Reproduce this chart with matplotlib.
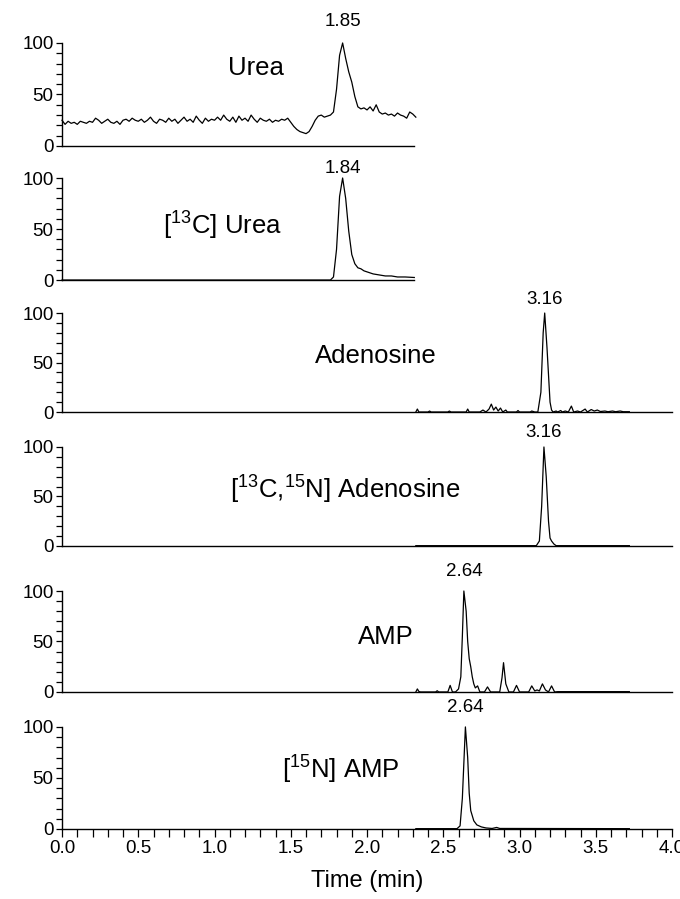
#!/usr/bin/env python3
# -*- coding: utf-8 -*-

"""Stacked chromatograms of urea, adenosine and AMP with their labelled standards."""

import matplotlib
matplotlib.use("Agg")
import matplotlib.pyplot as plt
from matplotlib.ticker import MultipleLocator
import numpy as np

plt.rcParams["font.family"] = ["Liberation Sans", "DejaVu Sans"]
plt.rcParams["mathtext.fontset"] = "custom"
plt.rcParams["mathtext.rm"] = "Liberation Sans"

# --- data -----------------------------------------------------------------
# Urea: sampled every 0.02 min from 0.00 to 2.32 min
urea_step = 0.02
urea_y = [
    25, 21, 24, 22, 23, 21, 24, 23, 22, 24, 23,
    27, 25, 22, 24, 26, 23, 22, 24, 21, 25,
    26, 24, 27, 25, 24, 26, 23, 25, 28, 24,
    22, 26, 25, 23, 27, 24, 26, 22, 25, 28,
    24, 26, 23, 29, 25, 22, 27, 24, 26, 25,
    28, 25, 30, 26, 24, 28, 23, 29, 25, 27,
    24, 30, 26, 23, 27, 25, 24, 26, 23, 25,
    24, 26, 25, 27, 23, 19, 16, 14, 13, 12,
    14, 19, 25, 29, 30, 28, 29, 30, 33, 55,
    88, 100, 85, 72, 62, 48, 38, 36, 37, 35,
    38, 34, 40, 33, 31, 32, 30, 31, 29, 32,
    30, 29, 27, 33, 31, 28,
]
urea_t = list(np.arange(len(urea_y)) * urea_step)

c13_urea_t = [0.0, 1.76, 1.78, 1.80, 1.82, 1.84, 1.86, 1.88, 1.90, 1.92, 1.94,
              1.96, 1.98, 2.00, 2.04, 2.08, 2.12, 2.16, 2.20, 2.25, 2.31]
c13_urea_y = [0, 0, 3, 30, 82, 100, 80, 48, 25, 16, 12,
              11, 9, 8, 6, 5, 4, 4, 3, 3, 2.5]

ade_t = [2.32, 2.33, 2.34, 2.40, 2.41, 2.42, 2.53, 2.54, 2.55, 2.65, 2.66,
         2.67, 2.74, 2.76, 2.78, 2.80, 2.815, 2.83, 2.845, 2.86, 2.875, 2.89,
         2.91, 2.92, 2.98, 2.99, 3.00, 3.07, 3.08, 3.10, 3.12, 3.14, 3.155,
         3.165, 3.18, 3.20, 3.21, 3.22, 3.24, 3.25, 3.27, 3.28, 3.30, 3.32,
         3.34, 3.355, 3.38, 3.40, 3.43, 3.445, 3.47, 3.49, 3.51, 3.53, 3.56,
         3.58, 3.61, 3.63, 3.66, 3.68, 3.72]
ade_y = [0, 3, 0, 0, 1, 0, 0, 1, 0, 0, 3,
         0, 0, 2, 0, 3, 8, 2, 5, 1, 4, 0,
         2, 0, 0, 1.5, 0, 0, 1, 0, 0, 20, 80,
         100, 65, 10, 2, 0, 1, 0, 1.5, 0, 1, 0,
         6, 0, 1, 0, 3, 0, 2.5, 1, 2, 0.5, 1,
         0.3, 1, 0.3, 1, 0.3, 0.3]

ade_lab_t = [2.32, 3.11, 3.13, 3.145, 3.16, 3.175, 3.19, 3.20, 3.21, 3.225,
             3.24, 3.72]
ade_lab_y = [0.3, 0.3, 5, 40, 100, 70, 25, 8, 5, 2, 0.3, 0.3]

amp_t = [2.32, 2.33, 2.34, 2.35, 2.45, 2.46, 2.47, 2.53, 2.545, 2.56,
         2.58, 2.60, 2.615, 2.625, 2.635, 2.65, 2.66, 2.67, 2.68, 2.69, 2.70,
         2.71, 2.725, 2.74, 2.77, 2.79, 2.81, 2.87, 2.885, 2.895, 2.91, 2.93,
         2.96, 2.98, 3.00, 3.06, 3.08, 3.10, 3.115, 3.13, 3.15, 3.17,
         3.19, 3.21, 3.23, 3.25, 3.72]
amp_y = [0, 3, 0.5, 0, 0, 1.2, 0, 0, 6.5, 0,
         0, 3, 15, 55, 100, 80, 50, 33, 25, 15, 8,
         4, 6, 0, 0, 5, 0, 0, 14, 29, 8, 0,
         0, 6.5, 0, 0, 6, 1, 2, 1, 8, 2,
         0, 6, 0, 0.3, 0.3]

amp_lab_t = [2.32, 2.59, 2.61, 2.625, 2.645, 2.66, 2.67, 2.68, 2.70, 2.72,
             2.75, 2.78, 2.82, 2.85, 2.87, 3.72]
amp_lab_y = [0.3, 0.3, 3, 30, 100, 70, 35, 18, 8, 4, 2, 1, 0.5, 1.5, 0.5, 0.3]

names = ["Urea", r"[$\mathregular{^{13}}$C] Urea", "Adenosine",
         r"[$\mathregular{^{13}}$C,$\mathregular{^{15}}$N] Adenosine",
         "AMP", r"[$\mathregular{^{15}}$N] AMP"]
traces = [(urea_t, urea_y), (c13_urea_t, c13_urea_y), (ade_t, ade_y),
          (ade_lab_t, ade_lab_y), (amp_t, amp_y), (amp_lab_t, amp_lab_y)]
peak_rt = ["1.85", "1.84", "3.16", "3.16", "2.64", "2.64"]
peak_x = [1.84, 1.84, 3.165, 3.16, 2.635, 2.645]

# --- layout ---------------------------------------------------------------
# (bottom, height) of each panel in figure fraction
boxes = [(0.8376, 0.1146), (0.6885, 0.1135), (0.5417, 0.1101),
         (0.3927, 0.1101), (0.2303, 0.1123), (0.0779, 0.1135)]
name_pos = [(1.27, 76), (1.05, 53), (2.06, 57), (1.86, 57), (2.12, 54),
            (1.83, 58)]
label_off = [21, 10, 14, 14, 20, 19]
spine_end = [2.31, 2.31, 4.0, 4.0, 4.0, 4.0]


def main():
    """Launcher."""
    fig = plt.figure(figsize=(6.8, 8.99), dpi=100)
    left, width = 0.0912, 0.8971
    axes = []
    for i, (bottom, height) in enumerate(boxes):
        ax = fig.add_axes([left, bottom, width, height])
        axes.append(ax)
        t, y = traces[i]
        ax.plot(t, y, color="black", lw=0.9, clip_on=False)
        ax.set_xlim(0, 4.0)
        ax.set_ylim(0, 100)
        for side in ("top", "right"):
            ax.spines[side].set_visible(False)
        ax.spines["left"].set_linewidth(1.0)
        ax.spines["bottom"].set_linewidth(1.0)
        ax.spines["bottom"].set_bounds(0, spine_end[i])
        ax.set_yticks([0, 50, 100])
        ax.yaxis.set_minor_locator(MultipleLocator(10))
        ax.tick_params(axis="y", which="major", direction="out", length=4,
                       width=0.9, pad=2, labelsize=13.5)
        ax.tick_params(axis="y", which="minor", direction="out", length=4,
                       width=0.9)
        ax.text(*name_pos[i], names[i], fontsize=18.5, ha="center",
                va="center")
        ax.annotate(peak_rt[i], xy=(peak_x[i], 100),
                    xytext=(0, label_off[i]), textcoords="offset pixels",
                    ha="center", va="center", fontsize=13.5)
        if i < len(boxes) - 1:
            ax.tick_params(axis="x", which="both", bottom=False,
                           labelbottom=False)
    ax = axes[-1]
    ax.xaxis.set_major_locator(MultipleLocator(0.5))
    ax.xaxis.set_minor_locator(MultipleLocator(0.1))
    ax.xaxis.set_major_formatter(lambda v, p: f"{v:.1f}")
    ax.tick_params(axis="x", which="both", direction="out", length=6,
                   width=0.9, pad=2, labelsize=13.5)
    ax.set_xlabel("Time (min)", fontsize=17, labelpad=9)
    fig.savefig("out.png", dpi=100)


if __name__ == "__main__":
    main()
